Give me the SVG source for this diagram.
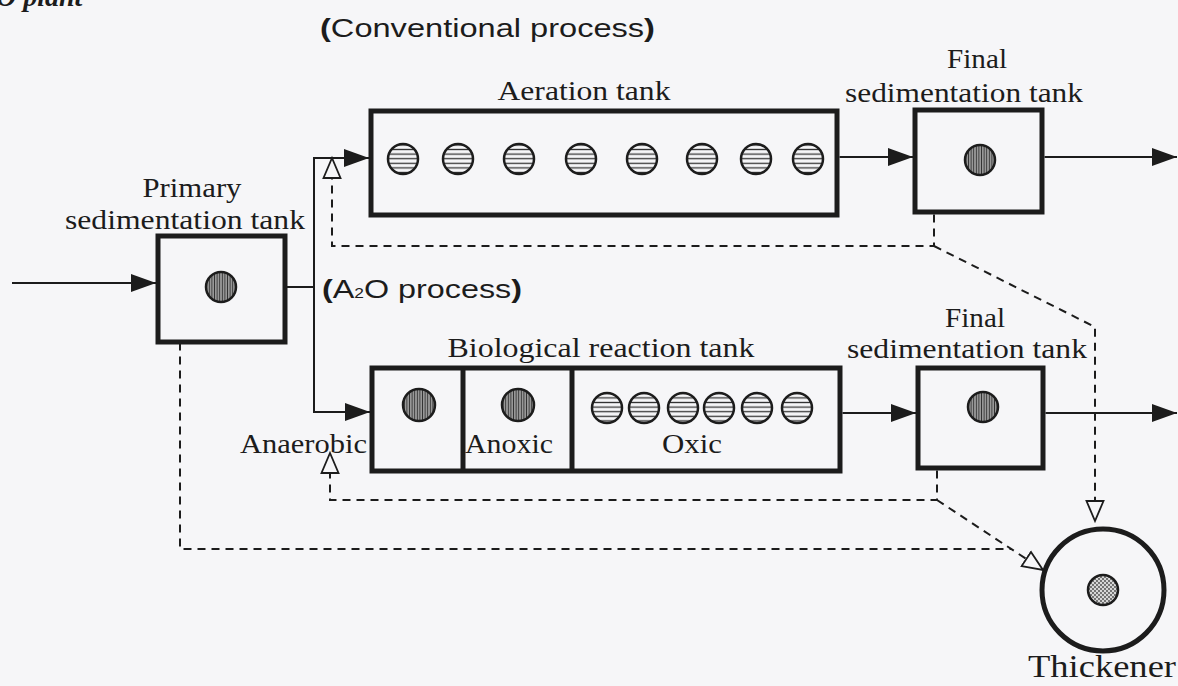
<svg xmlns="http://www.w3.org/2000/svg" width="1178" height="686" viewBox="0 0 1178 686">
<style>
.tank{fill:none;stroke:#1c1c1c;stroke-width:5}
.flow{fill:none;stroke:#1c1c1c;stroke-width:2}
.ret{fill:none;stroke:#1c1c1c;stroke-width:2;stroke-dasharray:8 6}
.serif{font-family:"Liberation Serif","Times New Roman",serif;font-size:28px;fill:#1c1c1c}
.sans{font-family:"Liberation Sans",Arial,sans-serif;font-size:26px;fill:#1c1c1c}
.air{fill:url(#hs);stroke:#1c1c1c;stroke-width:2.5}
.mix{fill:url(#vs);stroke:#1c1c1c;stroke-width:2.5}
.b{font-weight:bold}
</style>
<defs>
<pattern id="hs" patternUnits="userSpaceOnUse" width="8" height="4.6"><rect width="8" height="4.6" fill="#f6f6f8"/><line x1="0" y1="2.3" x2="8" y2="2.3" stroke="#333" stroke-width="1.3"/></pattern>
<pattern id="vs" patternUnits="userSpaceOnUse" width="2.6" height="8"><rect width="2.6" height="8" fill="#a0a0a0"/><line x1="1.3" y1="0" x2="1.3" y2="8" stroke="#333" stroke-width="1"/></pattern>
<pattern id="dots" patternUnits="userSpaceOnUse" width="4" height="4"><rect width="4" height="4" fill="#d6d6d6"/><circle cx="1" cy="1" r="0.9" fill="#444"/><circle cx="3" cy="3" r="0.9" fill="#444"/></pattern>
<marker id="arr" markerUnits="userSpaceOnUse" markerWidth="27" markerHeight="20" refX="25" refY="9" orient="auto"><path d="M0,0 L25,9 L0,18 z" fill="#1c1c1c"/></marker>
<marker id="open" markerUnits="userSpaceOnUse" markerWidth="24" markerHeight="22" refX="21" refY="10" orient="auto"><path d="M1,1.5 L21,10 L1,18.5 z" fill="#f6f6f8" stroke="#1c1c1c" stroke-width="1.8"/></marker>
</defs>
<rect width="1178" height="686" fill="#f6f6f8"/>

<g id="title"><text x="-4" y="6" style="font-family:'Liberation Serif',serif;font-size:28px;font-style:italic;font-weight:bold;fill:#1c1c1c">O plant</text></g>

<g id="connectors">
<path class="flow" d="M12,283 H156" marker-end="url(#arr)"/>
<path class="flow" d="M287,287 H314 V158 H369" marker-end="url(#arr)"/>
<path class="flow" d="M314,287 V412 H370" marker-end="url(#arr)"/>
<path class="flow" d="M839.5,157 H913" marker-end="url(#arr)"/>
<path class="flow" d="M1044.5,157 H1177" marker-end="url(#arr)"/>
<path class="flow" d="M842.5,413 H916" marker-end="url(#arr)"/>
<path class="flow" d="M1045.5,413 H1177" marker-end="url(#arr)"/>
<path class="ret" d="M934,214.5 V246 H332 V158" marker-end="url(#open)"/>
<path class="ret" d="M934,246 L1095,327 V521" marker-end="url(#open)"/>
<path class="ret" d="M937,470.5 V500 H330 V453" marker-end="url(#open)"/>
<path class="ret" d="M937,500 L1043,570" marker-end="url(#open)"/>
<path class="ret" d="M180,342.5 V549 H1011"/>
</g>

<g id="primary">
<rect class="tank" x="158" y="236" width="127" height="106"/>
<circle class="mix" cx="221" cy="287" r="15"/>
<text class="serif" x="192" y="197" text-anchor="middle" textLength="99" lengthAdjust="spacingAndGlyphs">Primary</text>
<text class="serif" x="185" y="229" text-anchor="middle" textLength="240" lengthAdjust="spacingAndGlyphs">sedimentation tank</text>
</g>

<g id="conventional-label">
<text class="sans" x="320" y="37" textLength="335" lengthAdjust="spacingAndGlyphs"><tspan class="b">(</tspan>Conventional process<tspan class="b">)</tspan></text>
</g>

<g id="aeration">
<rect class="tank" x="371" y="111" width="466" height="104"/>
<circle class="air" cx="403" cy="159" r="15"/>
<circle class="air" cx="458" cy="159" r="15"/>
<circle class="air" cx="519" cy="159" r="15"/>
<circle class="air" cx="581" cy="159" r="15"/>
<circle class="air" cx="642" cy="159" r="15"/>
<circle class="air" cx="702" cy="159" r="15"/>
<circle class="air" cx="756" cy="159" r="15"/>
<circle class="air" cx="808" cy="159" r="15"/>
<text class="serif" x="584" y="100" text-anchor="middle" textLength="173" lengthAdjust="spacingAndGlyphs">Aeration tank</text>
</g>

<g id="final1">
<rect class="tank" x="915" y="110" width="127" height="102"/>
<circle class="mix" cx="980" cy="160" r="15"/>
<text class="serif" x="977" y="68" text-anchor="middle" textLength="60" lengthAdjust="spacingAndGlyphs">Final</text>
<text class="serif" x="964" y="102" text-anchor="middle" textLength="238" lengthAdjust="spacingAndGlyphs">sedimentation tank</text>
</g>

<g id="a2o-label">
<text class="sans" x="322" y="298" textLength="200" lengthAdjust="spacingAndGlyphs"><tspan class="b">(</tspan>A<tspan font-size="14">2</tspan>O process<tspan class="b">)</tspan></text>
</g>

<g id="bio">
<rect class="tank" x="372" y="368" width="468" height="103"/>
<line class="tank" x1="463" y1="368" x2="463" y2="471"/>
<line class="tank" x1="572" y1="368" x2="572" y2="471"/>
<circle class="mix" cx="419" cy="405" r="16"/>
<circle class="mix" cx="518" cy="405" r="16"/>
<circle class="air" cx="607" cy="408" r="15"/>
<circle class="air" cx="644" cy="408" r="15"/>
<circle class="air" cx="683" cy="408" r="15"/>
<circle class="air" cx="719" cy="408" r="15"/>
<circle class="air" cx="757" cy="408" r="15"/>
<circle class="air" cx="797" cy="408" r="15"/>
<text class="serif" x="601" y="357" text-anchor="middle" textLength="307" lengthAdjust="spacingAndGlyphs">Biological reaction tank</text>
<text class="serif" x="240" y="453" textLength="127" lengthAdjust="spacingAndGlyphs">Anaerobic</text>
<text class="serif" x="465" y="453" textLength="88" lengthAdjust="spacingAndGlyphs">Anoxic</text>
<text class="serif" x="692" y="453" text-anchor="middle" textLength="60" lengthAdjust="spacingAndGlyphs">Oxic</text>
</g>

<g id="final2">
<rect class="tank" x="918" y="368" width="125" height="100"/>
<circle class="mix" cx="983" cy="407" r="15"/>
<text class="serif" x="975" y="327" text-anchor="middle" textLength="60" lengthAdjust="spacingAndGlyphs">Final</text>
<text class="serif" x="847" y="358" textLength="240" lengthAdjust="spacingAndGlyphs">sedimentation tank</text>
</g>

<g id="thickener">
<circle class="tank" cx="1103" cy="590" r="61"/>
<circle cx="1103" cy="590" r="15" fill="url(#dots)" stroke="#1c1c1c" stroke-width="2.5"/>
<text class="serif" x="1028" y="677" style="font-size:31px" textLength="148" lengthAdjust="spacingAndGlyphs">Thickener</text>
</g>
</svg>
